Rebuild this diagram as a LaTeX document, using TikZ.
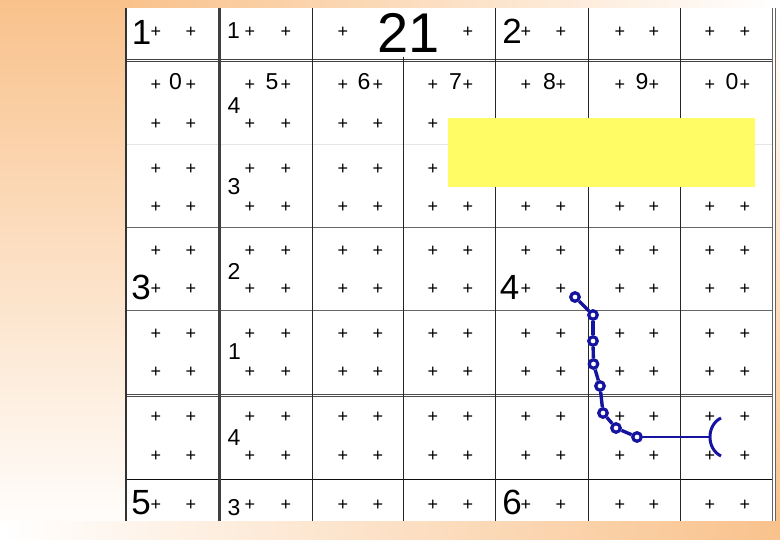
\documentclass[tikz,border=0pt]{standalone}
\usepackage{fontspec}
\setmainfont{Liberation Sans}
\definecolor{bgor}{RGB}{249,194,140}
\definecolor{bblue}{RGB}{20,20,160}
\definecolor{yel}{RGB}{255,252,102}
\begin{document}
\begin{tikzpicture}[x=1pt,y=-1pt,
  pl/.style={inner sep=0pt, font=\fontsize{18}{18}\selectfont},
  md/.style={inner sep=0pt, font=\fontsize{23}{23}\selectfont},
  lg/.style={inner sep=0pt, font=\fontsize{35}{35}\selectfont},
  hg/.style={inner sep=0pt, fill=white, font=\fontsize{56}{56}\selectfont},
  thin/.style={line width=0.8pt, draw=black!85},
  bdot/.style={circle, draw=bblue, fill=white, line width=3.2pt, minimum size=8.5pt, inner sep=0pt},
  bline/.style={draw=bblue, line width=3.4pt, line join=round}]
\useasboundingbox (0,0) rectangle (780,540);
% background
\fill[white] (0,0) rectangle (780,540);
\shade[top color=bgor, bottom color=white] (0,0) rectangle (126,540);
\shade[left color=bgor, right color=white] (126,0) rectangle (780,8);
\shade[top color=white, bottom color=bgor] (772,8) rectangle (780,521);
\shade[left color=white, right color=bgor] (0,521) rectangle (780,540);
\fill[white] (126,8) rectangle (775,521);
% horizontal lines
\draw[thin, draw=black!75] (126,59) -- (772,59);
\draw[thin, draw=black!75] (126,61.5) -- (772,61.5);
\draw[line width=0.8pt, draw=black!10] (126,144) -- (772,144);
\draw[thin, draw=black!60] (126,227) -- (772,227);
\draw[thin, draw=black!60] (126,310) -- (772,310);
\draw[thin, draw=black!70] (126,394) -- (772,394);
\draw[thin, draw=black!70] (126,396.5) -- (772,396.5);
\draw[thin, draw=black!95] (126,479) -- (772,479);
% vertical lines
\draw[line width=1.2pt, draw=black!80] (126,8) -- (126,521);
\foreach \vx in {312,495.5,588,680.5} \draw[thin] (\vx,8) -- (\vx,521);
\draw[thin] (403.5,57) -- (403.5,521);
\draw[line width=3pt, draw=black!75] (219.5,8) -- (219.5,521);
\draw[thin, draw=black!60] (772,8) -- (772,521);
\draw[thin, draw=black!60] (775,8) -- (775,521);
% plus signs
\foreach \px/\c in {156/1,191/2,250/3,286/4,343/5,468/8,526/9,561/10,620/11,654/12,710/13,745/14}
  \node[pl] (p-1-\c) at (\px,32) {+};
\foreach \py/\r in {85/2,207/5,251/6,289/7,334/8,372/9,417/10,456/11,505/12}
  \foreach \px [count=\c] in {156,191,250,286,343,378,433,468,526,561,620,654,710,745}
    \node[pl] (p-\r-\c) at (\px,\py) {+};
\foreach \py/\r in {124/3,169/4}
  \foreach \px [count=\c] in {156,191,250,286,343,378,433}
    \node[pl] (p-\r-\c) at (\px,\py) {+};
% yellow box
\fill[yel] (448,118) rectangle (755,187);
% labels
\node[hg] (big) at (409,33) {21};
\node[lg] (t1) at (141.5,32) {1};
\node[md] (t1b) at (233.5,31) {1};
\node[lg] (t2) at (512,31) {2};
\node[md] (r0a) at (175.5,81.5) {0};
\node[md] (r5) at (272,81.5) {5};
\node[md] (r4) at (234,105.5) {4};
\node[md] (r6) at (364,81.5) {6};
\node[md] (r7) at (455.5,81.5) {7};
\node[md] (r8) at (549.5,81.5) {8};
\node[md] (r9) at (642,81.5) {9};
\node[md] (r0b) at (732,81.5) {0};
\node[md] (s3) at (234,187) {3};
\node[lg] (l3) at (141,287) {3};
\node[md] (s2) at (234,271.5) {2};
\node[lg] (l4) at (509.5,287) {4};
\node[md] (s1) at (234.5,352) {1};
\node[md] (s4) at (234,438) {4};
\node[lg] (l5) at (141,502.5) {5};
\node[md] (s3b) at (234,508) {3};
\node[lg] (l6) at (512,502.5) {6};
% blue path
\node[bdot] (b1) at (575,297) {};
\node[bdot] (b2) at (593,315) {};
\node[bdot] (b3) at (593,341) {};
\node[bdot] (b4) at (593.5,364) {};
\node[bdot] (b5) at (600,386) {};
\node[bdot] (b6) at (603,413) {};
\node[bdot] (b7) at (616,428) {};
\node[bdot] (b8) at (637,437) {};
\coordinate (e) at (710,437);
\draw[bline] (b1) -- (b2);
\draw[bline] (b2) -- (b3);
\draw[bline] (b3) -- (b4);
\draw[bline] (b4) -- (b5);
\draw[bline] (b5) -- (b6);
\draw[bline] (b6) -- (b7);
\draw[bline] (b7) -- (b8);
\draw[draw=bblue, line width=2.6pt] (b8) -- (e);
\draw[draw=bblue, line width=3pt] (721,418) .. controls (706.3,425) and (706.3,449) .. (721,456);
\end{tikzpicture}
\end{document}
